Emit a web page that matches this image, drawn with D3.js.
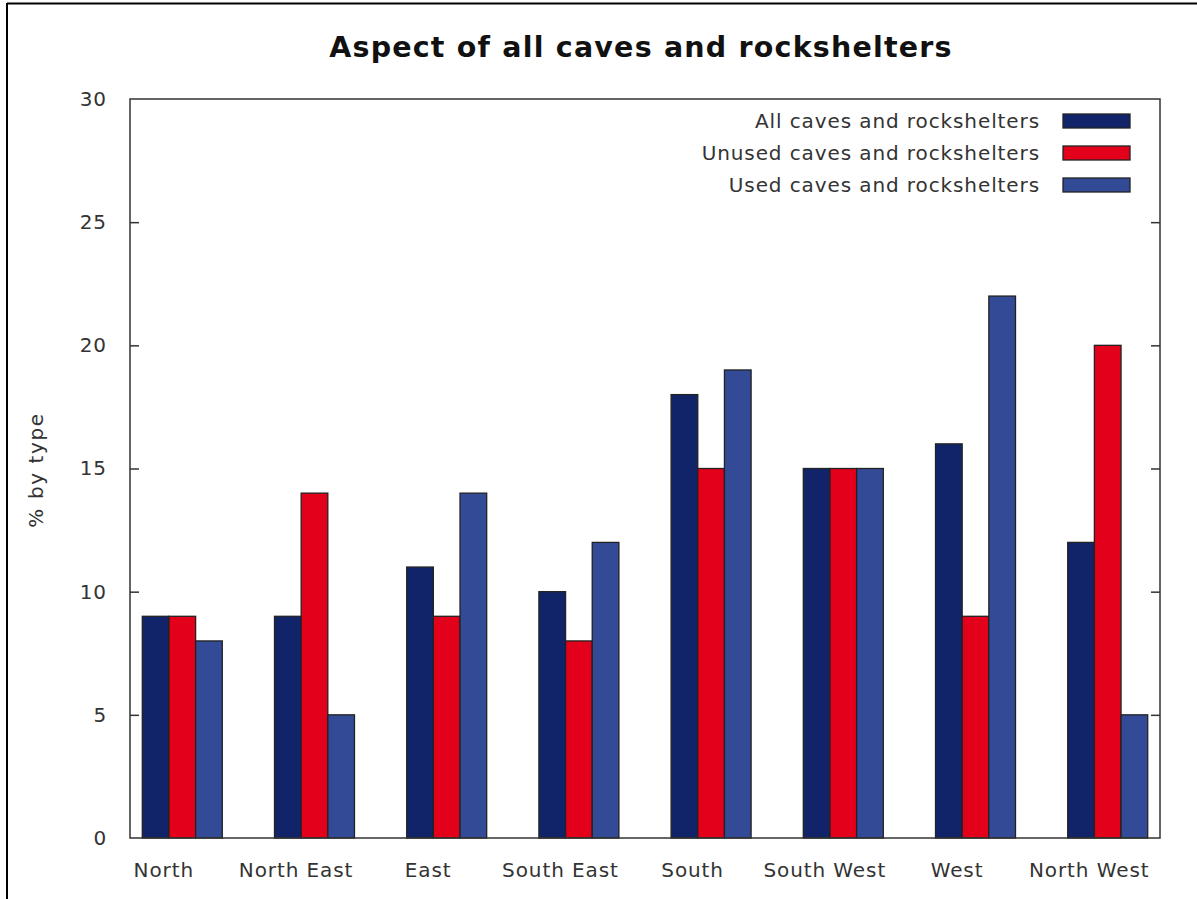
<!DOCTYPE html>
<html>
<head>
<meta charset="utf-8">
<script src="https://cdn.jsdelivr.net/npm/d3@7/dist/d3.min.js"></script>
<style>
  html, body { margin: 0; padding: 0; background: #fff; }
  svg { display: block; }
  text { font-family: "DejaVu Sans", Verdana, sans-serif; }
</style>
</head>
<body>
<svg id="chart" width="1197" height="899"></svg>
<script>
const categories = ["North", "North East", "East", "South East", "South", "South West", "West", "North West"];
const seriesNames = ["All caves and rockshelters", "Unused caves and rockshelters", "Used caves and rockshelters"];
const allCaves = [9, 9, 11, 10, 18, 15, 16, 12];
const unusedCaves = [9, 14, 9, 8, 15, 15, 9, 20];
const usedCaves = [8, 5, 14, 12, 19, 15, 22, 5];
const yTicks = [0, 5, 10, 15, 20, 25, 30];
const colors = ["#11246a", "#e2001a", "#334a97"];
const series = [allCaves, unusedCaves, usedCaves];

(function () {
const svg = d3.select("#chart");
const W = 1197, H = 899;
const mLeft = 130, mRight = 1160, mTop = 99, mBottom = 838;
const FS = 20, LS = 0.9;

// outer image border (top + left)
svg.append("line").attr("x1", 7).attr("x2", W).attr("y1", 3.5).attr("y2", 3.5)
  .attr("stroke", "#000").attr("stroke-width", 2);
svg.append("line").attr("x1", 7).attr("x2", 7).attr("y1", 3).attr("y2", H)
  .attr("stroke", "#000").attr("stroke-width", 2);

const y = d3.scaleLinear().domain([0, 30]).range([mBottom, mTop]);
const x = d3.scaleBand().domain(categories).range([mLeft, mRight])
  .paddingInner(0.395).paddingOuter(0.093);
const xs = d3.scaleBand().domain(d3.range(3)).range([0, x.bandwidth()]);

// bars
const g = svg.append("g");
categories.forEach((c, i) => {
  series.forEach((s, j) => {
    g.append("rect")
      .attr("x", x(c) + xs(j))
      .attr("y", y(s[i]))
      .attr("width", xs.bandwidth())
      .attr("height", y(0) - y(s[i]))
      .attr("fill", colors[j])
      .attr("stroke", "#222")
      .attr("stroke-width", 1.3);
  });
});

// frame
svg.append("rect").attr("x", mLeft).attr("y", mTop)
  .attr("width", mRight - mLeft).attr("height", mBottom - mTop)
  .attr("fill", "none").attr("stroke", "#333").attr("stroke-width", 1.5);

// y axis ticks (left and mirrored right)
const yAxisL = d3.axisLeft(y).tickValues(yTicks).tickSizeInner(-9).tickSizeOuter(0).tickPadding(23);
const gl = svg.append("g").attr("transform", `translate(${mLeft},0)`).call(yAxisL);
gl.select(".domain").remove();
gl.selectAll(".tick line").attr("stroke", "#333").attr("stroke-width", 1.5);
gl.selectAll(".tick text").attr("font-size", FS).attr("fill", "#333")
  .attr("letter-spacing", LS)
  .attr("font-family", "'DejaVu Sans', sans-serif");
gl.selectAll(".tick").filter(d => d === 0 || d === 30).select("line").remove();

const yAxisR = d3.axisRight(y).tickValues(yTicks).tickSizeInner(-9).tickSizeOuter(0).tickFormat("");
const gr = svg.append("g").attr("transform", `translate(${mRight},0)`).call(yAxisR);
gr.select(".domain").remove();
gr.selectAll(".tick line").attr("stroke", "#333").attr("stroke-width", 1.5);
gr.selectAll(".tick").filter(d => d === 0 || d === 30).select("line").remove();

// x labels
svg.append("g").selectAll("text").data(categories).join("text")
  .attr("x", d => x(d) + 21.5)
  .attr("y", 877)
  .attr("text-anchor", "middle")
  .attr("font-size", FS)
  .attr("letter-spacing", LS)
  .attr("fill", "#333")
  .text(d => d);

// y label
svg.append("text")
  .attr("transform", `translate(43,470) rotate(-90)`)
  .attr("text-anchor", "middle")
  .attr("font-size", FS)
  .attr("letter-spacing", 1.6)
  .attr("fill", "#333")
  .text("% by type");

// title
svg.append("text")
  .attr("x", 641).attr("y", 57)
  .attr("text-anchor", "middle")
  .attr("font-size", 28.5)
  .attr("letter-spacing", 1.2)
  .attr("font-weight", "bold")
  .attr("fill", "#111")
  .text("Aspect of all caves and rockshelters");

// legend
const leg = svg.append("g");
seriesNames.forEach((n, j) => {
  const cy = 121 + j * 32;
  leg.append("text").attr("x", 1040).attr("y", cy + 7)
    .attr("text-anchor", "end").attr("font-size", FS).attr("letter-spacing", LS)
    .attr("fill", "#333").text(n);
  leg.append("rect").attr("x", 1063).attr("y", cy - 7).attr("width", 67).attr("height", 14)
    .attr("fill", colors[j]).attr("stroke", "#222").attr("stroke-width", 1.3);
});
})();
</script>
</body>
</html>
